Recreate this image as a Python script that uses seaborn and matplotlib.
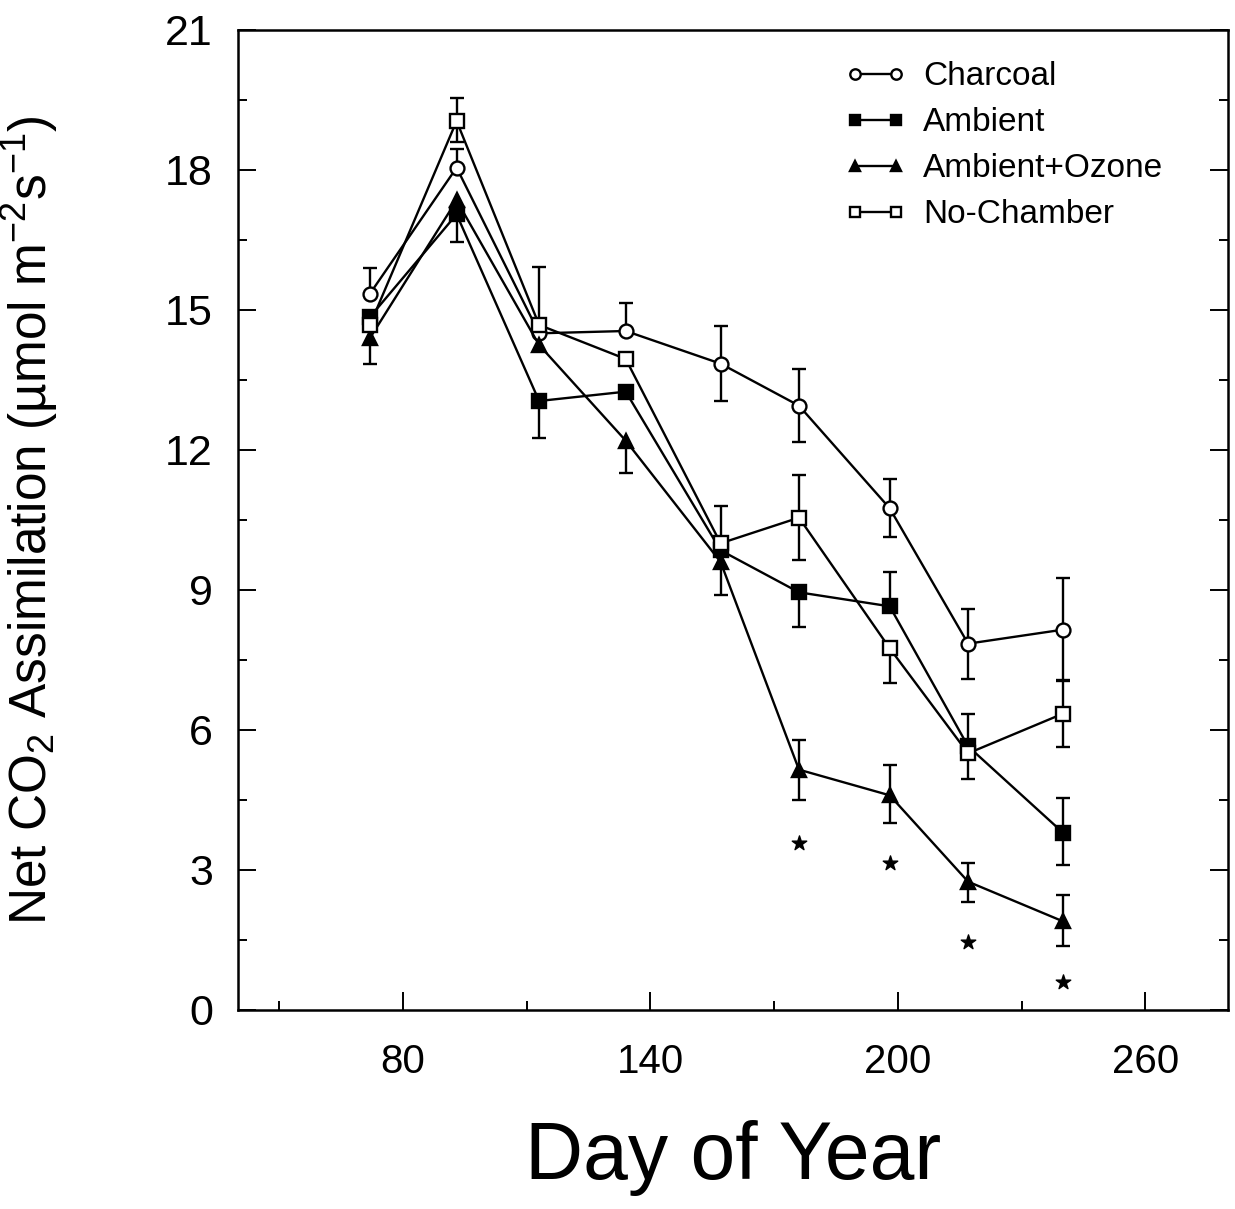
"""Net CO2 assimilation by day of year for four chamber treatments."""
import matplotlib
matplotlib.use("Agg")
import matplotlib.pyplot as plt
import numpy as np
import pandas as pd
import seaborn as sns

DAYS = [72, 93, 113, 134, 157, 176, 198, 217, 240]

CHARCOAL = [15.35, 18.05, 14.5, 14.55, 13.85, 12.95, 10.75, 7.85, 8.15]
CHARCOAL_UP = [0.55, 0.4, 0, 0.6, 0.8, 0.78, 0.62, 0.75, 1.1]
CHARCOAL_LO = [0, 0, 0, 0, 0.8, 0.78, 0.62, 0.75, 1.1]

AMBIENT = [14.85, 17.05, 13.05, 13.25, 9.85, 8.95, 8.65, 5.65, 3.8]
AMBIENT_UP = [0, 0, 0, 0, 0, 0, 0.73, 0.7, 0.75]
AMBIENT_LO = [0, 0.6, 0.8, 0, 0, 0.75, 0, 0.7, 0.7]

OZONE = [14.4, 17.35, 14.25, 12.2, 9.6, 5.15, 4.6, 2.75, 1.9]
OZONE_UP = [0, 0, 0, 0, 0, 0.63, 0.65, 0.4, 0.56]
OZONE_LO = [0.55, 0, 0, 0.7, 0.7, 0.65, 0.6, 0.43, 0.53]

NOCHAMBER = [14.68, 19.05, 14.68, 13.95, 10.0, 10.55, 7.75, 5.5, 6.35]
NOCHAMBER_UP = [0, 0.5, 1.25, 0, 0.8, 0.92, 0, 0, 0.72]
NOCHAMBER_LO = [0, 0.45, 0, 0, 0, 0.9, 0.75, 0, 0.72]

# significance stars under the ozone series
STAR_DAYS = [176, 198, 217, 240]
STAR_Y = [3.58, 3.15, 1.46, 0.6]

SERIES = [
    ("Charcoal", CHARCOAL, CHARCOAL_LO, CHARCOAL_UP, "o", "white"),
    ("Ambient", AMBIENT, AMBIENT_LO, AMBIENT_UP, "s", "black"),
    ("Ambient+Ozone", OZONE, OZONE_LO, OZONE_UP, "^", "black"),
    ("No-Chamber", NOCHAMBER, NOCHAMBER_LO, NOCHAMBER_UP, "s", "white"),
]

sns.set_theme(style="ticks")
plt.rcParams["font.family"] = ["Liberation Sans", "DejaVu Sans"]
plt.rcParams["mathtext.fontset"] = "custom"
plt.rcParams["mathtext.rm"] = "Liberation Sans"
plt.rcParams["mathtext.default"] = "regular"
plt.rcParams["text.color"] = "black"
plt.rcParams["axes.labelcolor"] = "black"
plt.rcParams["xtick.color"] = "black"
plt.rcParams["ytick.color"] = "black"


def _errorbars(ax, x, y, lo, up):
    kw = dict(fmt="none", ecolor="black", elinewidth=1.7, capsize=5,
              capthick=1.7, zorder=2)
    m = up > 0
    if m.any():
        _, caps, _ = ax.errorbar(x[m], y[m], yerr=[np.zeros(m.sum()), up[m]], **kw)
        caps[0].set_visible(False)
    m = lo > 0
    if m.any():
        _, caps, _ = ax.errorbar(x[m], y[m], yerr=[lo[m], np.zeros(m.sum())], **kw)
        caps[1].set_visible(False)


fig = plt.figure(figsize=(12.35, 12.09), dpi=100)
ax = fig.add_axes([0.1927, 0.1646, 0.8016, 0.8106])

x = np.array(DAYS, dtype=float)
for name, vals, lo, up, marker, face in SERIES:
    df = pd.DataFrame({"day": DAYS, "value": vals})
    sns.lineplot(data=df, x="day", y="value", ax=ax, color="black",
                 linewidth=1.7, marker=marker, markersize=10,
                 markerfacecolor=face, markeredgecolor="black",
                 markeredgewidth=1.7, label=name, errorbar=None, zorder=3)
    _errorbars(ax, x, np.array(vals), np.array(lo), np.array(up))

ax.scatter(STAR_DAYS, STAR_Y, marker="*", s=120, color="black", zorder=4)

ax.set_xlim(40, 280)
ax.set_ylim(0, 21)
ax.set_xticks([80, 140, 200, 260])
ax.set_xticks([50, 110, 170, 230], minor=True)
ax.set_yticks(np.arange(0, 22, 3))
ax.set_yticks(np.arange(1.5, 21, 3), minor=True)
ax.tick_params(axis="both", which="both", direction="in", width=1.4,
               right=True, top=False)
ax.tick_params(axis="both", which="major", length=13)
ax.tick_params(axis="both", which="minor", length=6.5)
ax.tick_params(axis="x", which="major", labelsize=29, pad=24)
ax.tick_params(axis="y", which="major", labelsize=31, pad=18)
for s in ax.spines.values():
    s.set_linewidth(1.8)
    s.set_color("black")

ax.set_xlabel("Day of Year", fontsize=58)
ax.xaxis.set_label_coords(0.5, -0.112)
ax.xaxis.label.set_va("top")
ax.set_ylabel("Net CO$_2$ Assimilation (µmol m$^{-2}$s$^{-1}$)", fontsize=37)
ax.yaxis.set_label_coords(-0.18, 0.5)

ax.legend(loc="upper left", bbox_to_anchor=(0.596, 0.985), frameon=False,
          fontsize=24, numpoints=2, handlelength=1.85, handletextpad=0.5,
          labelspacing=0.45, borderpad=0, markerscale=0.75)

fig.savefig("out.png", dpi=100)
